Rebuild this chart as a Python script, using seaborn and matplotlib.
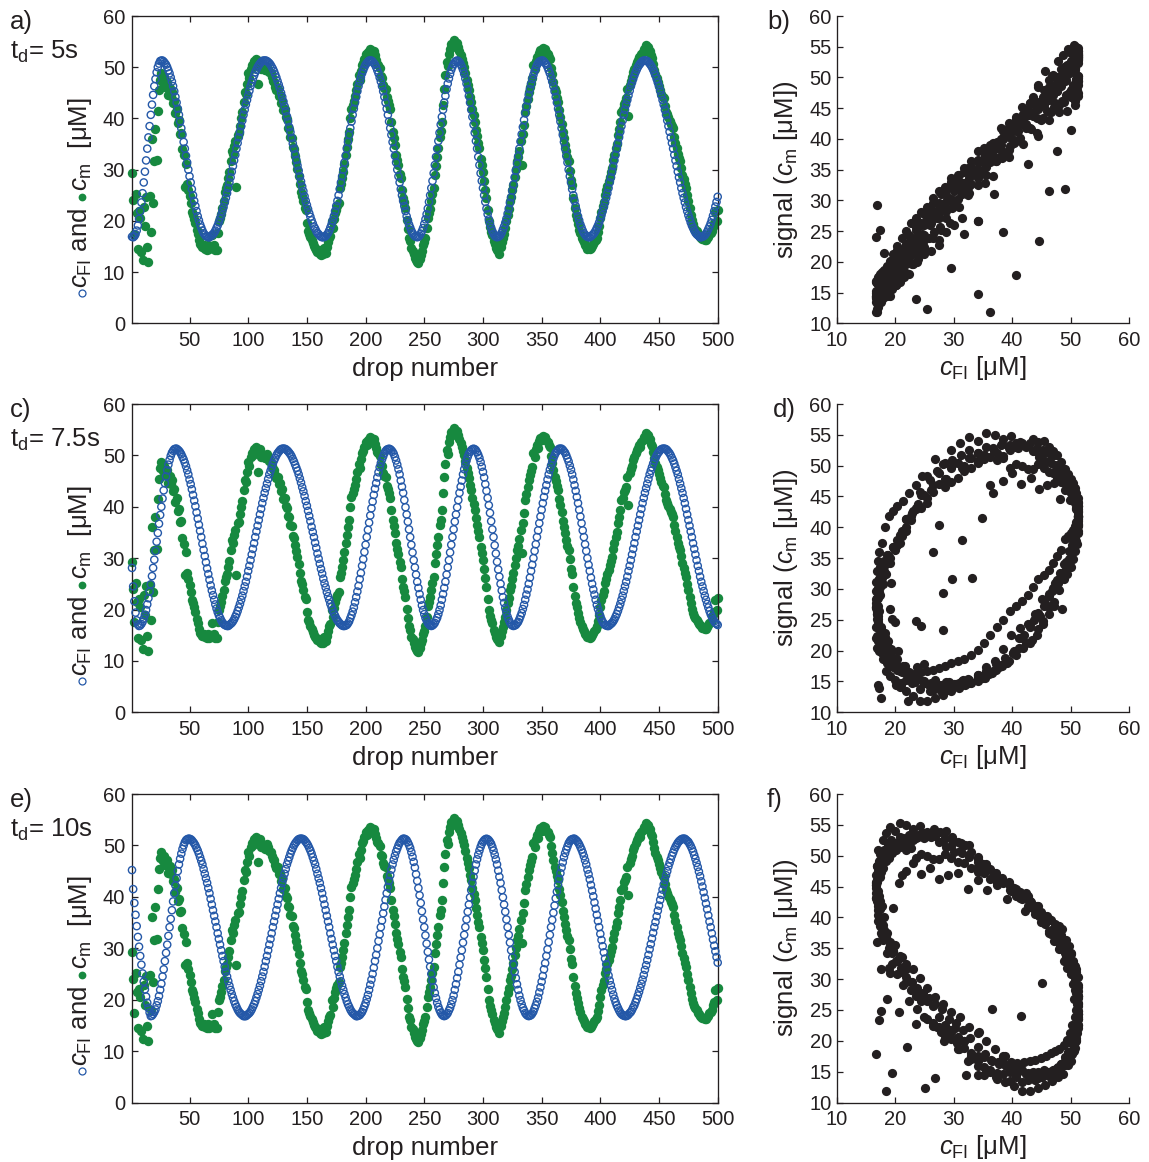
import numpy as np
import matplotlib
matplotlib.use("Agg")
import matplotlib.pyplot as plt
from matplotlib.lines import Line2D
import seaborn as sns

# Measured signal c_m for each drop (same measurement in every row)
cm_signal = [
    29.3, 24.0, 17.5, 25.2, 21.5, 14.5, 22.0, 20.5, 14.0, 12.4,
    22.8, 19.0, 24.6, 14.8, 11.9, 24.8, 17.9, 36.0, 23.4, 31.6,
    38.0, 31.8, 41.5, 45.5, 47.5, 48.8,
    47.0, 48.0, 46.2, 46.8, 47.2, 44.6, 46.0, 44.4, 45.2, 43.0,
    43.4, 41.0, 41.8, 39.2, 39.6, 37.0, 37.2, 34.0, 32.8, 26.7,
    31.2, 27.2, 26.0, 24.8, 23.5, 21.8, 21.2, 20.4, 19.6, 18.2,
    17.4, 16.3, 15.5, 15.2, 14.9, 15.3, 14.6, 14.9, 14.4, 15.2,
    14.5, 15.0, 17.3, 14.8, 15.3, 14.4, 14.4, 17.6, 19.9, 20.6,
    21.4, 22.6, 23.8, 25.6, 26.4, 27.0, 28.3, 29.5, 31.6, 33.6,
    33.0, 34.6, 35.5, 26.7, 36.8, 37.1, 38.6, 40.0, 41.2, 43.2,
    45.2, 44.8, 46.8, 48.8, 47.9, 49.6, 50.4, 50.0, 51.3, 50.8,
    51.7, 46.8, 50.9, 51.2, 49.7, 50.3, 49.9, 49.4,
    49.5, 50.2, 49.6, 49.0, 48.8, 48.0, 47.4, 47.2, 46.2, 45.6,
    45.8, 44.4, 44.6, 43.0, 43.4, 41.6, 41.8, 40.2, 39.8, 38.2,
    38.0, 36.4, 36.2, 34.4, 34.0, 32.6, 31.4, 30.2, 28.8, 27.2,
    25.6, 24.9, 23.8, 22.5, 22.1, 19.6, 18.0, 17.5, 16.8, 16.2,
    15.6, 15.1, 14.7, 14.4, 14.0, 14.3, 13.6, 13.4, 14.1, 13.5,
    14.7, 13.8, 14.9, 15.8, 16.7, 17.1, 19.9, 18.6, 20.3, 21.5,
    22.2, 22.9, 23.5, 26.4, 27.2, 28.3, 29.6, 31.1, 32.9, 34.5,
    36.0, 37.4, 40.0, 41.9, 42.6, 43.4, 44.3, 45.5, 46.8, 48.4,
    47.6, 49.2, 50.4, 50.9, 51.7, 52.6, 52.1, 53.0, 52.4, 53.5,
    53.3, 52.8, 53.1, 52.3, 51.4, 50.6, 50.4, 49.8, 48.2, 47.9,
    46.5, 46.0, 45.8, 44.1, 43.5, 42.6, 41.8, 39.4, 37.4, 36.2,
    34.8, 32.9, 31.8, 30.9, 29.2, 28.3, 26.0, 24.4, 23.6, 22.5,
    20.2, 18.4, 16.7, 16.0, 14.7, 14.2, 13.5, 12.8, 12.3, 11.9,
    11.8, 12.6, 13.4, 14.1, 15.2, 15.9, 16.7, 18.6, 20.6, 21.5,
    22.4, 23.8, 25.2, 26.4, 29.0, 30.8, 32.5, 34.2, 36.4, 37.5,
    39.4, 42.6, 45.8, 48.4, 51.0, 50.2, 52.6, 53.6, 54.6, 54.0,
    55.3, 55.0, 54.3, 54.8,
    53.9, 53.2, 52.4, 51.6, 50.8, 50.1, 48.9, 47.6, 46.5, 45.6,
    44.2, 43.2, 41.8, 40.6, 39.4, 37.8, 36.5, 35.2, 34.2, 32.1,
    31.0, 29.6, 27.8, 26.1, 24.4, 22.1, 19.9, 18.8, 17.9, 17.3,
    16.1, 15.4, 14.7, 14.3,
    14.1, 13.6, 14.8, 15.9, 16.6, 17.5, 18.6, 19.9, 21.2, 22.3,
    23.8, 24.6, 26.0, 27.1, 28.6, 30.1, 31.6, 32.4, 33.7, 35.5,
    31.0, 36.9, 38.8, 41.3, 42.4, 43.8, 45.2, 46.1, 47.0, 47.8,
    50.4, 49.6, 51.2, 52.0, 51.5, 52.8, 53.3, 52.9,
    53.7, 53.4, 53.6, 52.9, 52.6, 52.0, 51.7, 49.8, 48.6, 47.2,
    45.8, 45.1, 44.0, 43.2, 41.6, 40.3, 39.0, 37.3, 36.1, 34.8,
    33.6, 32.4, 31.6, 29.8, 27.9, 27.0, 24.4, 22.6, 21.2, 20.4,
    19.3, 18.3, 17.6, 16.7, 16.2, 15.8, 15.3, 15.0, 14.6, 14.9,
    14.5, 14.7, 15.1, 15.4, 15.9, 16.3, 16.7, 17.8, 19.0, 20.5,
    21.8, 22.9, 23.6, 25.1, 26.0, 26.9, 27.7, 28.6, 29.5, 30.3,
    31.8, 32.9, 34.2, 35.1, 36.8, 38.0, 39.4, 41.3, 41.8, 42.9,
    43.2, 43.9, 45.8, 40.4, 46.5, 47.4, 48.0, 49.1, 49.6, 50.4,
    51.0, 51.4, 52.0, 51.6, 52.6, 53.0, 53.6, 53.2,
    54.3, 53.8, 54.0, 53.1, 52.3, 51.8, 50.6, 49.5, 48.6, 47.8,
    47.2, 46.4, 45.6, 44.8, 44.1, 43.9, 42.5, 41.3, 40.8, 40.2,
    39.5, 39.0, 38.6, 38.1, 36.4, 35.3, 34.2, 33.0, 32.2, 31.6,
    30.4, 29.0, 28.1, 27.2, 26.4, 25.0, 23.8, 22.5, 21.2, 20.1,
    19.3, 18.7, 18.3, 18.0, 17.5, 17.2, 16.9, 16.7,
    16.5, 16.4, 16.2, 16.3, 16.6, 16.9, 17.4, 17.6, 18.0, 18.9,
    19.6, 21.8, 20.0, 22.2,
]

# Imposed concentration c_FI seen by each drop, delay t_d = 5 s
cfi_td5 = [
    16.9, 16.8, 17.0, 17.4, 18.1, 19.1, 20.4, 21.9, 23.6, 25.4,
    27.5, 29.6, 31.8, 34.1, 36.3, 38.5, 40.7, 42.7, 44.6, 46.3,
    47.7, 49.0, 50.0, 50.7, 51.2, 51.3,
    51.3, 51.1, 50.8, 50.5, 50.0, 49.4, 48.8, 48.0, 47.2, 46.3,
    45.3, 44.2, 43.1, 41.9, 40.7, 39.4, 38.1, 36.8, 35.4, 34.1,
    32.7, 31.4, 30.0, 28.7, 27.5, 26.2, 25.0, 23.9, 22.9, 21.9,
    20.9, 20.1, 19.3, 18.7, 18.1, 17.6, 17.3, 17.0, 16.9, 16.8,
    16.8, 17.0, 17.2, 17.4, 17.7, 18.1, 18.6, 19.1, 19.7, 20.4,
    21.1, 21.9, 22.7, 23.6, 24.5, 25.4, 26.4, 27.5, 28.5, 29.6,
    30.7, 31.8, 32.9, 34.1, 35.2, 36.3, 37.4, 38.5, 39.6, 40.7,
    41.7, 42.7, 43.6, 44.5, 45.4, 46.3, 47.0, 47.7, 48.4, 49.0,
    49.5, 50.0, 50.4, 50.7, 51.0, 51.2, 51.3, 51.3,
    51.3, 51.2, 51.0, 50.8, 50.5, 50.1, 49.7, 49.2, 48.6, 48.0,
    47.3, 46.6, 45.9, 45.0, 44.2, 43.3, 42.4, 41.4, 40.4, 39.4,
    38.3, 37.3, 36.2, 35.1, 34.1, 33.0, 31.9, 30.8, 29.8, 28.7,
    27.7, 26.7, 25.8, 24.8, 23.9, 23.1, 22.3, 21.5, 20.8, 20.1,
    19.5, 18.9, 18.5, 18.0, 17.6, 17.4, 17.1, 16.9, 16.8, 16.8,
    16.9, 17.0, 17.3, 17.6, 18.1, 18.7, 19.3, 20.1, 20.9, 21.9,
    22.9, 23.9, 25.0, 26.2, 27.5, 28.7, 30.0, 31.4, 32.7, 34.1,
    35.4, 36.8, 38.1, 39.4, 40.7, 41.9, 43.1, 44.2, 45.3, 46.3,
    47.2, 48.0, 48.8, 49.4, 50.0, 50.5, 50.8, 51.1, 51.3, 51.3,
    51.3, 51.1, 50.8, 50.5, 50.0, 49.4, 48.8, 48.0, 47.2, 46.3,
    45.3, 44.2, 43.1, 41.9, 40.7, 39.4, 38.1, 36.8, 35.4, 34.1,
    32.7, 31.4, 30.0, 28.7, 27.5, 26.2, 25.0, 23.9, 22.9, 21.9,
    20.9, 20.1, 19.3, 18.7, 18.1, 17.6, 17.3, 17.0, 16.9, 16.8,
    16.9, 17.1, 17.5, 18.0, 18.6, 19.4, 20.3, 21.3, 22.4, 23.7,
    25.0, 26.4, 27.8, 29.3, 30.9, 32.5, 34.1, 35.6, 37.2, 38.8,
    40.3, 41.7, 43.1, 44.4, 45.7, 46.8, 47.8, 48.7, 49.5, 50.1,
    50.6, 51.0, 51.2, 51.3,
    51.2, 51.0, 50.6, 50.1, 49.5, 48.7, 47.8, 46.8, 45.7, 44.4,
    43.1, 41.7, 40.3, 38.8, 37.2, 35.6, 34.1, 32.5, 30.9, 29.3,
    27.8, 26.4, 25.0, 23.7, 22.4, 21.3, 20.3, 19.4, 18.6, 18.0,
    17.5, 17.1, 16.9, 16.8,
    16.9, 17.0, 17.3, 17.7, 18.3, 18.9, 19.6, 20.4, 21.4, 22.4,
    23.5, 24.6, 25.9, 27.1, 28.5, 29.8, 31.2, 32.6, 34.1, 35.5,
    36.9, 38.3, 39.7, 41.0, 42.3, 43.5, 44.6, 45.7, 46.7, 47.7,
    48.5, 49.2, 49.8, 50.4, 50.8, 51.1, 51.2, 51.3,
    51.3, 51.1, 50.8, 50.5, 50.0, 49.4, 48.8, 48.0, 47.2, 46.3,
    45.3, 44.2, 43.1, 41.9, 40.7, 39.4, 38.1, 36.8, 35.4, 34.1,
    32.7, 31.4, 30.0, 28.7, 27.5, 26.2, 25.0, 23.9, 22.9, 21.9,
    20.9, 20.1, 19.3, 18.7, 18.1, 17.6, 17.3, 17.0, 16.9, 16.8,
    16.8, 17.0, 17.2, 17.4, 17.7, 18.1, 18.6, 19.1, 19.7, 20.4,
    21.1, 21.9, 22.7, 23.6, 24.5, 25.4, 26.4, 27.5, 28.5, 29.6,
    30.7, 31.8, 32.9, 34.1, 35.2, 36.3, 37.4, 38.5, 39.6, 40.7,
    41.7, 42.7, 43.6, 44.5, 45.4, 46.3, 47.0, 47.7, 48.4, 49.0,
    49.5, 50.0, 50.4, 50.7, 51.0, 51.2, 51.3, 51.3,
    51.3, 51.2, 51.0, 50.7, 50.4, 50.0, 49.5, 49.0, 48.4, 47.7,
    47.0, 46.3, 45.4, 44.5, 43.6, 42.7, 41.7, 40.7, 39.6, 38.5,
    37.4, 36.3, 35.2, 34.1, 32.9, 31.8, 30.7, 29.6, 28.5, 27.5,
    26.4, 25.4, 24.5, 23.6, 22.7, 21.9, 21.1, 20.4, 19.7, 19.1,
    18.6, 18.1, 17.7, 17.4, 17.2, 17.0, 16.8, 16.8,
    16.9, 17.0, 17.2, 17.5, 17.9, 18.4, 18.9, 19.5, 20.2, 21.0,
    21.9, 22.8, 23.7, 24.7,
]

# Imposed concentration c_FI, delay t_d = 7.5 s
cfi_td7_5 = [
    28.1, 24.5, 21.6, 19.4, 17.9, 17.1, 16.8,
    16.9, 17.2, 17.6, 18.2, 19.0, 19.9, 21.0, 22.2, 23.5, 24.9,
    26.5, 28.1, 29.7, 31.4, 33.2, 34.9, 36.7, 38.4, 40.0, 41.6,
    43.2, 44.6, 45.9, 47.1, 48.2, 49.1, 49.9, 50.5, 50.9, 51.2,
    51.3,
    51.3, 51.1, 50.9, 50.6, 50.2, 49.7, 49.2, 48.6, 47.9, 47.1,
    46.3, 45.3, 44.4, 43.4, 42.3, 41.2, 40.1, 38.9, 37.7, 36.5,
    35.3, 34.1, 32.8, 31.6, 30.4, 29.2, 28.0, 26.9, 25.8, 24.7,
    23.7, 22.8, 21.9, 21.0, 20.2, 19.5, 18.9, 18.4, 17.9, 17.5,
    17.2, 17.0, 16.9, 16.8,
    16.8, 17.0, 17.2, 17.4, 17.7, 18.1, 18.6, 19.1, 19.7, 20.4,
    21.1, 21.9, 22.7, 23.6, 24.5, 25.4, 26.4, 27.5, 28.5, 29.6,
    30.7, 31.8, 32.9, 34.1, 35.2, 36.3, 37.4, 38.5, 39.6, 40.7,
    41.7, 42.7, 43.6, 44.5, 45.4, 46.3, 47.0, 47.7, 48.4, 49.0,
    49.5, 50.0, 50.4, 50.7, 51.0, 51.2, 51.3, 51.3,
    51.3, 51.2, 51.0, 50.8, 50.5, 50.2, 49.8, 49.3, 48.8, 48.2,
    47.6, 47.0, 46.3, 45.5, 44.7, 43.8, 43.0, 42.1, 41.1, 40.2,
    39.2, 38.2, 37.2, 36.1, 35.1, 34.1, 33.0, 32.0, 30.9, 29.9,
    28.9, 27.9, 27.0, 26.0, 25.1, 24.3, 23.4, 22.6, 21.9, 21.1,
    20.5, 19.9, 19.3, 18.8, 18.3, 17.9, 17.6, 17.3, 17.1, 16.9,
    16.8, 16.8,
    16.9, 17.0, 17.3, 17.7, 18.3, 18.9, 19.6, 20.4, 21.4, 22.4,
    23.5, 24.6, 25.9, 27.1, 28.5, 29.8, 31.2, 32.6, 34.1, 35.5,
    36.9, 38.3, 39.7, 41.0, 42.3, 43.5, 44.6, 45.7, 46.7, 47.7,
    48.5, 49.2, 49.8, 50.4, 50.8, 51.1, 51.2, 51.3,
    51.2, 51.0, 50.7, 50.3, 49.7, 49.0, 48.2, 47.3, 46.3, 45.1,
    43.9, 42.7, 41.3, 39.9, 38.5, 37.1, 35.6, 34.1, 32.6, 31.1,
    29.6, 28.2, 26.8, 25.4, 24.2, 23.0, 21.9, 20.8, 19.9, 19.1,
    18.4, 17.9, 17.4, 17.1, 16.9, 16.8,
    16.9, 17.1, 17.4, 17.9, 18.4, 19.1, 19.9, 20.8, 21.9, 23.0,
    24.2, 25.4, 26.8, 28.2, 29.6, 31.1, 32.6, 34.1, 35.6, 37.1,
    38.5, 39.9, 41.3, 42.7, 43.9, 45.1, 46.3, 47.3, 48.2, 49.0,
    49.7, 50.3, 50.7, 51.0, 51.2, 51.3,
    51.2, 51.0, 50.6, 50.1, 49.5, 48.7, 47.8, 46.8, 45.7, 44.4,
    43.1, 41.7, 40.3, 38.8, 37.2, 35.6, 34.1, 32.5, 30.9, 29.3,
    27.8, 26.4, 25.0, 23.7, 22.4, 21.3, 20.3, 19.4, 18.6, 18.0,
    17.5, 17.1, 16.9, 16.8,
    16.9, 17.0, 17.3, 17.6, 18.1, 18.7, 19.3, 20.1, 20.9, 21.9,
    22.9, 23.9, 25.0, 26.2, 27.5, 28.7, 30.0, 31.4, 32.7, 34.1,
    35.4, 36.8, 38.1, 39.4, 40.7, 41.9, 43.1, 44.2, 45.3, 46.3,
    47.2, 48.0, 48.8, 49.4, 50.0, 50.5, 50.8, 51.1, 51.3, 51.3,
    51.3, 51.1, 50.8, 50.5, 50.0, 49.4, 48.8, 48.0, 47.2, 46.3,
    45.3, 44.2, 43.1, 41.9, 40.7, 39.4, 38.1, 36.8, 35.4, 34.1,
    32.7, 31.4, 30.0, 28.7, 27.5, 26.2, 25.0, 23.9, 22.9, 21.9,
    20.9, 20.1, 19.3, 18.7, 18.1, 17.6, 17.3, 17.0, 16.9, 16.8,
    16.8, 17.0, 17.2, 17.4, 17.7, 18.1, 18.6, 19.1, 19.7, 20.4,
    21.1, 21.9, 22.7, 23.6, 24.5, 25.4, 26.4, 27.5, 28.5, 29.6,
    30.7, 31.8, 32.9, 34.1, 35.2, 36.3, 37.4, 38.5, 39.6, 40.7,
    41.7, 42.7, 43.6, 44.5, 45.4, 46.3, 47.0, 47.7, 48.4, 49.0,
    49.5, 50.0, 50.4, 50.7, 51.0, 51.2, 51.3, 51.3,
    51.3, 51.2, 51.0, 50.7, 50.4, 50.0, 49.5, 49.0, 48.4, 47.7,
    47.0, 46.3, 45.4, 44.5, 43.6, 42.7, 41.7, 40.7, 39.6, 38.5,
    37.4, 36.3, 35.2, 34.1, 32.9, 31.8, 30.7, 29.6, 28.5, 27.5,
    26.4, 25.4, 24.5, 23.6, 22.7, 21.9, 21.1, 20.4, 19.7, 19.1,
    18.6, 18.1, 17.7, 17.4, 17.2, 17.0,
]

# Imposed concentration c_FI, delay t_d = 10 s
cfi_td10 = [
    45.2, 41.5, 38.8, 36.5, 34.3, 32.2, 30.3, 28.5, 26.8, 25.1,
    23.5, 22.0, 20.6, 19.4, 18.4, 17.5, 16.8,
    16.9, 17.2, 17.6, 18.1, 18.9, 19.7, 20.7, 21.9, 23.1, 24.5,
    25.9, 27.5, 29.1, 30.7, 32.4, 34.1, 35.7, 37.4, 39.1, 40.7,
    42.2, 43.6, 45.0, 46.3, 47.4, 48.4, 49.3, 50.0, 50.6, 51.0,
    51.2, 51.3,
    51.3, 51.2, 51.0, 50.7, 50.4, 50.0, 49.5, 49.0, 48.4, 47.7,
    47.0, 46.3, 45.4, 44.5, 43.6, 42.7, 41.7, 40.7, 39.6, 38.5,
    37.4, 36.3, 35.2, 34.1, 32.9, 31.8, 30.7, 29.6, 28.5, 27.5,
    26.4, 25.4, 24.5, 23.6, 22.7, 21.9, 21.1, 20.4, 19.7, 19.1,
    18.6, 18.1, 17.7, 17.4, 17.2, 17.0, 16.8, 16.8,
    16.8, 17.0, 17.2, 17.4, 17.7, 18.1, 18.6, 19.1, 19.7, 20.4,
    21.1, 21.9, 22.7, 23.6, 24.5, 25.4, 26.4, 27.5, 28.5, 29.6,
    30.7, 31.8, 32.9, 34.1, 35.2, 36.3, 37.4, 38.5, 39.6, 40.7,
    41.7, 42.7, 43.6, 44.5, 45.4, 46.3, 47.0, 47.7, 48.4, 49.0,
    49.5, 50.0, 50.4, 50.7, 51.0, 51.2, 51.3, 51.3,
    51.3, 51.2, 51.0, 50.7, 50.4, 50.0, 49.5, 49.0, 48.4, 47.7,
    47.0, 46.3, 45.4, 44.5, 43.6, 42.7, 41.7, 40.7, 39.6, 38.5,
    37.4, 36.3, 35.2, 34.1, 32.9, 31.8, 30.7, 29.6, 28.5, 27.5,
    26.4, 25.4, 24.5, 23.6, 22.7, 21.9, 21.1, 20.4, 19.7, 19.1,
    18.6, 18.1, 17.7, 17.4, 17.2, 17.0, 16.8, 16.8,
    16.9, 17.0, 17.3, 17.6, 18.1, 18.7, 19.3, 20.1, 20.9, 21.9,
    22.9, 23.9, 25.0, 26.2, 27.5, 28.7, 30.0, 31.4, 32.7, 34.1,
    35.4, 36.8, 38.1, 39.4, 40.7, 41.9, 43.1, 44.2, 45.3, 46.3,
    47.2, 48.0, 48.8, 49.4, 50.0, 50.5, 50.8, 51.1, 51.3, 51.3,
    51.2, 51.0, 50.6, 50.1, 49.5, 48.7, 47.8, 46.8, 45.7, 44.4,
    43.1, 41.7, 40.3, 38.8, 37.2, 35.6, 34.1, 32.5, 30.9, 29.3,
    27.8, 26.4, 25.0, 23.7, 22.4, 21.3, 20.3, 19.4, 18.6, 18.0,
    17.5, 17.1, 16.9, 16.8,
    16.9, 17.1, 17.4, 17.9, 18.4, 19.1, 19.9, 20.8, 21.9, 23.0,
    24.2, 25.4, 26.8, 28.2, 29.6, 31.1, 32.6, 34.1, 35.6, 37.1,
    38.5, 39.9, 41.3, 42.7, 43.9, 45.1, 46.3, 47.3, 48.2, 49.0,
    49.7, 50.3, 50.7, 51.0, 51.2, 51.3,
    51.2, 51.0, 50.7, 50.3, 49.7, 49.0, 48.2, 47.3, 46.3, 45.1,
    43.9, 42.7, 41.3, 39.9, 38.5, 37.1, 35.6, 34.1, 32.6, 31.1,
    29.6, 28.2, 26.8, 25.4, 24.2, 23.0, 21.9, 20.8, 19.9, 19.1,
    18.4, 17.9, 17.4, 17.1, 16.9, 16.8,
    16.9, 17.0, 17.3, 17.7, 18.3, 18.9, 19.6, 20.4, 21.4, 22.4,
    23.5, 24.6, 25.9, 27.1, 28.5, 29.8, 31.2, 32.6, 34.1, 35.5,
    36.9, 38.3, 39.7, 41.0, 42.3, 43.5, 44.6, 45.7, 46.7, 47.7,
    48.5, 49.2, 49.8, 50.4, 50.8, 51.1, 51.2, 51.3,
    51.3, 51.1, 50.9, 50.6, 50.2, 49.7, 49.2, 48.6, 47.9, 47.1,
    46.3, 45.3, 44.4, 43.4, 42.3, 41.2, 40.1, 38.9, 37.7, 36.5,
    35.3, 34.1, 32.8, 31.6, 30.4, 29.2, 28.0, 26.9, 25.8, 24.7,
    23.7, 22.8, 21.9, 21.0, 20.2, 19.5, 18.9, 18.4, 17.9, 17.5,
    17.2, 17.0, 16.9, 16.8,
    16.8, 16.9, 17.1, 17.4, 17.6, 18.0, 18.5, 18.9, 19.5, 20.1,
    20.8, 21.5, 22.3, 23.1, 23.9, 24.8, 25.8, 26.7, 27.7, 28.7,
    29.8, 30.8, 31.9, 33.0, 34.1, 35.1, 36.2, 37.3, 38.3, 39.4,
    40.4, 41.4, 42.4, 43.3, 44.2, 45.0, 45.9, 46.6, 47.3, 48.0,
    48.6, 49.2, 49.7, 50.1, 50.5, 50.8, 51.0, 51.2, 51.3, 51.3,
    51.3, 51.1, 50.9, 50.7, 50.3, 49.9, 49.4, 48.8, 48.1, 47.4,
    46.6, 45.8, 44.9, 44.0, 43.0, 42.0, 40.9, 39.8, 38.7, 37.6,
    36.4, 35.2, 34.1, 32.9, 31.7, 30.5, 29.4, 28.3, 27.2,
]

row_series = [cfi_td5, cfi_td7_5, cfi_td10]
left_letters = ["a)", "c)", "e)"]
right_letters = ["b)", "d)", "f)"]
delay_texts = [r"t$_{\mathrm{d}}$= 5s", r"t$_{\mathrm{d}}$= 7.5s", r"t$_{\mathrm{d}}$= 10s"]
drop_ticks = [50, 100, 150, 200, 250, 300, 350, 400, 450, 500]
conc_ticks = [0, 10, 20, 30, 40, 50, 60]
cfi_ticks = [10, 20, 30, 40, 50, 60]
signal_ticks = [10, 15, 20, 25, 30, 35, 40, 45, 50, 55, 60]

BLUE = "#2458a8"
GREEN = "#17893f"
DARK = "#231f20"

sns.set_style("white")
plt.rcParams.update({
    "font.family": ["Liberation Sans", "DejaVu Sans"],
    "mathtext.fontset": "custom",
    "mathtext.rm": "Liberation Sans",
    "mathtext.it": "Liberation Sans:italic",
    "mathtext.bf": "Liberation Sans:bold",
    "axes.edgecolor": DARK,
    "axes.linewidth": 0.95,
    "text.color": DARK,
    "axes.labelcolor": DARK,
    "xtick.color": DARK,
    "ytick.color": DARK,
})

W, H = 1149, 1162
fig = plt.figure(figsize=(W / 100, H / 100), dpi=100)
fig.patch.set_facecolor("white")


def axes_px(left, top, right, bottom):
    return fig.add_axes([left / W, 1 - bottom / H, (right - left) / W, (bottom - top) / H])


rows = [(16.0, 323.3), (404.0, 712.3), (794.0, 1102.5)]
renderer = fig.canvas.get_renderer()

for i, (top, bottom) in enumerate(rows):
    cfi = row_series[i]
    shift = top - rows[0][0]

    # time course: measured signal (filled) and imposed concentration (open)
    ax = axes_px(132.0, top, 717.7, bottom)
    drops_m = np.arange(1, len(cm_signal) + 1)
    drops_f = np.arange(1, len(cfi) + 1)
    sns.scatterplot(x=drops_m, y=cm_signal, ax=ax, color=GREEN, s=46,
                    linewidth=0, clip_on=False, legend=False, zorder=2)
    sns.scatterplot(x=drops_f, y=cfi, ax=ax, color=BLUE, s=27,
                    linewidth=1.0, clip_on=False, legend=False, zorder=3)
    ring = ax.collections[-1]
    ring.set_facecolor("none")
    ring.set_edgecolor(BLUE)
    ax.set_xlim(1, 500)
    ax.set_ylim(0, 60)
    ax.set_xticks(drop_ticks)
    ax.set_yticks(conc_ticks)
    ax.tick_params(direction="in", length=4, width=0.9, top=True, right=True,
                   bottom=True, left=True, labelsize=14.5)
    ax.tick_params(axis="x", pad=5.5)
    ax.tick_params(axis="y", pad=5)
    for sp in ax.spines.values():
        sp.set_visible(True)
        sp.set_color(DARK)
        sp.set_linewidth(0.95)
    ax.set_xlabel("drop number", fontsize=18.5, labelpad=5)
    ax.set_ylabel("")

    # correlation: signal against imposed concentration
    n = min(len(cfi), len(cm_signal))
    bx = axes_px(836.7, top, 1129.0, bottom)
    sns.scatterplot(x=cfi[:n], y=cm_signal[:n], ax=bx, color=DARK, s=44,
                    linewidth=0, clip_on=False, legend=False)
    bx.set_xlim(10, 60)
    bx.set_ylim(10, 60)
    bx.set_xticks(cfi_ticks)
    bx.set_yticks(signal_ticks)
    bx.spines["top"].set_visible(False)
    bx.spines["right"].set_visible(False)
    for key in ("left", "bottom"):
        bx.spines[key].set_color(DARK)
        bx.spines[key].set_linewidth(0.95)
    bx.tick_params(direction="in", length=4, width=0.9, top=False, right=False,
                   bottom=True, left=True, labelsize=14.5)
    bx.tick_params(axis="x", pad=5.5)
    bx.tick_params(axis="y", pad=3.5)
    bx.set_xlabel(r"$c_{\mathrm{FI}}$ [μM]", fontsize=18.5, labelpad=3)
    bx.set_ylabel(r"signal ($c_{\mathrm{m}}$ [μM])", fontsize=18.5, labelpad=7)

    # panel letters and delay
    fig.text(10 / W, 1 - (28.5 + shift) / H, left_letters[i], fontsize=18.5,
             va="baseline", ha="left")
    fig.text(10 / W, 1 - (59.0 + shift) / H, delay_texts[i], fontsize=18.5,
             va="baseline", ha="left")
    rx = 773 if i == 1 else 767
    fig.text(rx / W, 1 - (28.5 + shift) / H, right_letters[i], fontsize=18.5,
             va="baseline", ha="left")

    # left axis title built from pieces: ring, c_FI and, dot, c_m [uM]
    ring_y = top + 277.0
    x_mark = 81.5
    x_text = 80.0
    fig.add_artist(Line2D([x_mark / W], [1 - ring_y / H], transform=fig.transFigure,
                          marker="o", ms=5.0, mfc="none", mec=BLUE, mew=0.9, ls="none"))
    t1 = fig.text(x_text / W, 1 - (ring_y - 5) / H, r"$c_{\mathrm{FI}}$ and",
                  rotation=90, ha="center", va="bottom", fontsize=18.5)
    bb = t1.get_window_extent(renderer)
    dot_y = bb.y1 + 11
    fig.add_artist(Line2D([x_mark / W], [dot_y / H], transform=fig.transFigure,
                          marker="o", ms=5.6, mfc=GREEN, mec=GREEN, mew=0, ls="none"))
    fig.text(x_text / W, (dot_y + 6) / H, r"$c_{\mathrm{m}}$  [μM]",
             rotation=90, ha="center", va="bottom", fontsize=18.5)

fig.savefig("out.png", dpi=100, facecolor="white")

for name, arr in [("cm_signal", cm_signal), ("cfi_td5", cfi_td5),
                  ("cfi_td7_5", cfi_td7_5), ("cfi_td10", cfi_td10)]:
    assert len(arr) == 500, (name, len(arr))
